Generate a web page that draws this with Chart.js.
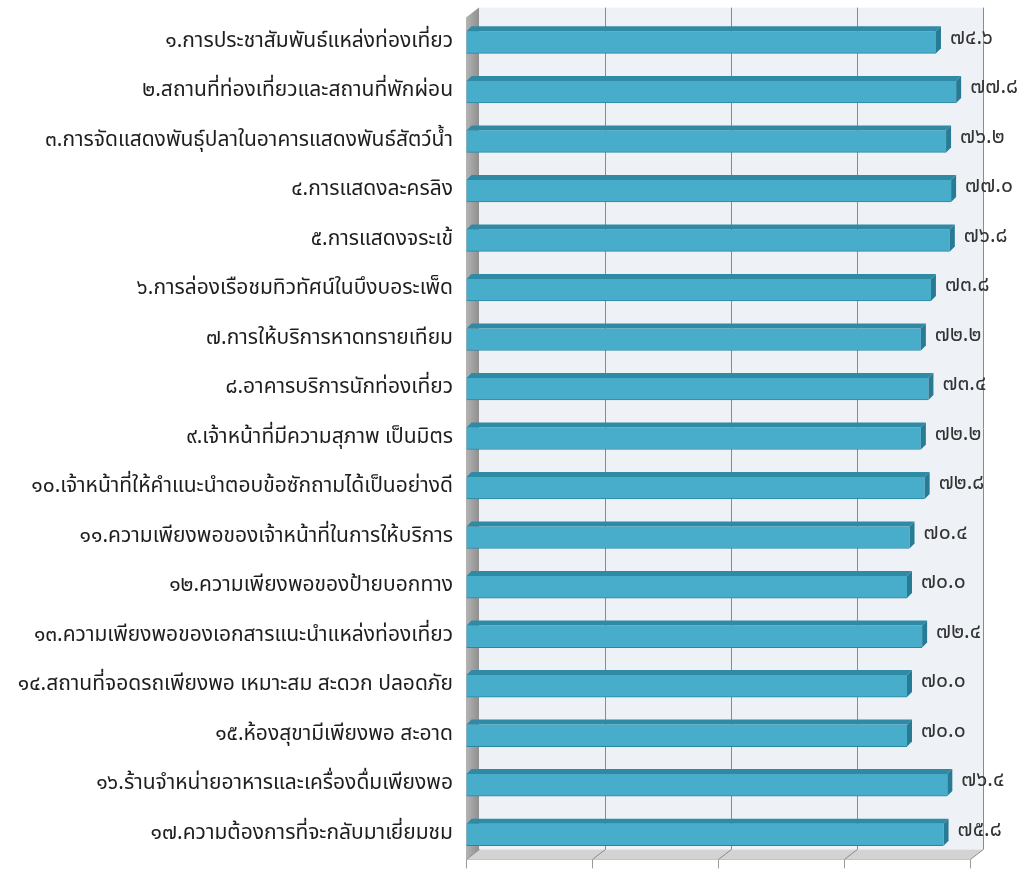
<!DOCTYPE html>
<html lang="th">
<head>
<meta charset="utf-8">
<title>ผลการประเมินความพึงพอใจ</title>
<script src="https://cdn.jsdelivr.net/npm/chart.js@4.4.1/dist/chart.umd.min.js"></script>
<style>
  html, body { margin: 0; padding: 0; background: #ffffff; }
  #wrap { width: 1029px; height: 877px; position: relative; }
</style>
</head>
<body>
<div id="wrap"><canvas id="chart"></canvas></div>
<script>
// รายการหัวข้อประเมิน
const categories = [
  "๑.การประชาสัมพันธ์แหล่งท่องเที่ยว",
  "๒.สถานที่ท่องเที่ยวและสถานที่พักผ่อน",
  "๓.การจัดแสดงพันธุ์ปลาในอาคารแสดงพันธ์สัตว์น้ำ",
  "๔.การแสดงละครลิง",
  "๕.การแสดงจระเข้",
  "๖.การล่องเรือชมทิวทัศน์ในบึงบอระเพ็ด",
  "๗.การให้บริการหาดทรายเทียม",
  "๘.อาคารบริการนักท่องเที่ยว",
  "๙.เจ้าหน้าที่มีความสุภาพ เป็นมิตร",
  "๑๐.เจ้าหน้าที่ให้คำแนะนำตอบข้อซักถามได้เป็นอย่างดี",
  "๑๑.ความเพียงพอของเจ้าหน้าที่ในการให้บริการ",
  "๑๒.ความเพียงพอของป้ายบอกทาง",
  "๑๓.ความเพียงพอของเอกสารแนะนำแหล่งท่องเที่ยว",
  "๑๔.สถานที่จอดรถเพียงพอ เหมาะสม สะดวก ปลอดภัย",
  "๑๕.ห้องสุขามีเพียงพอ สะอาด",
  "๑๖.ร้านจำหน่ายอาหารและเครื่องดื่มเพียงพอ",
  "๑๗.ความต้องการที่จะกลับมาเยี่ยมชม"
];

// ค่าร้อยละของแต่ละหัวข้อ
const values = [74.6, 77.8, 76.2, 77.0, 76.8, 73.8, 72.2, 73.4, 72.2, 72.8, 70.4, 70.0, 72.4, 70.0, 70.0, 76.4, 75.8];

// แกนค่า (ไม่แสดงตัวเลข)
const axisMin = 0;
const axisMax = 80;
const axisStep = 20;

const thaiDigits = ["๐", "๑", "๒", "๓", "๔", "๕", "๖", "๗", "๘", "๙"];
function toThai(n) {
  return n.toFixed(1).replace(/\d/g, (d) => thaiDigits[d]);
}

const FONT = "'Noto Sans Thai', 'Noto Sans', 'DejaVu Sans', sans-serif";

// วาดกล่อง 3 มิติ: ผนังหลัง ผนังซ้าย พื้น และเส้นกริด
const boxPlugin = {
  id: "box3d",
  beforeDatasetsDraw(chart) {
    const { ctx, chartArea: a, scales } = chart;
    const dx = 13, dy = -10;
    ctx.save();

    // ผนังหลัง
    ctx.fillStyle = "#eef2f7";
    ctx.fillRect(a.left + dx, a.top + dy, a.right - a.left, a.bottom - a.top);

    // พื้น
    ctx.fillStyle = "#d3d3d3";
    ctx.beginPath();
    ctx.moveTo(a.left, a.bottom);
    ctx.lineTo(a.left + dx, a.bottom + dy);
    ctx.lineTo(a.right + dx, a.bottom + dy);
    ctx.lineTo(a.right, a.bottom);
    ctx.closePath();
    ctx.fill();

    // ผนังซ้าย
    const g = ctx.createLinearGradient(a.left, 0, a.left + dx, 0);
    g.addColorStop(0, "#b4b4b4");
    g.addColorStop(1, "#8f8f8f");
    ctx.fillStyle = g;
    ctx.beginPath();
    ctx.moveTo(a.left, a.top);
    ctx.lineTo(a.left + dx, a.top + dy);
    ctx.lineTo(a.left + dx, a.bottom + dy);
    ctx.lineTo(a.left, a.bottom);
    ctx.closePath();
    ctx.fill();

    // เส้นกริดบนผนังหลังและพื้น
    ctx.strokeStyle = "#8a8a8a";
    ctx.lineWidth = 1;
    scales.x.ticks.forEach((t, i) => {
      const x = Math.round(scales.x.getPixelForTick(i)) + 0.5;
      ctx.beginPath();
      if (i > 0) {
        ctx.moveTo(x + dx, a.top + dy);
        ctx.lineTo(x + dx, a.bottom + dy);
      }
      ctx.moveTo(x, a.bottom);
      ctx.lineTo(x + dx, a.bottom + dy);
      ctx.stroke();
    });
    ctx.restore();
  },
  afterDatasetsDraw(chart) {
    const { ctx } = chart;
    const d = 5;
    const meta = chart.getDatasetMeta(0);
    ctx.save();
    meta.data.forEach((bar, i) => {
      const top = bar.y - bar.height / 2;
      const bottom = bar.y + bar.height / 2;
      // ด้านบนของแท่ง
      ctx.fillStyle = "#2f8aa6";
      ctx.beginPath();
      ctx.moveTo(bar.base, top);
      ctx.lineTo(bar.base + d, top - d);
      ctx.lineTo(bar.x + d, top - d);
      ctx.lineTo(bar.x, top);
      ctx.closePath();
      ctx.fill();
      // ปลายแท่ง
      ctx.fillStyle = "#287b95";
      ctx.beginPath();
      ctx.moveTo(bar.x, top);
      ctx.lineTo(bar.x + d, top - d);
      ctx.lineTo(bar.x + d, bottom - d);
      ctx.lineTo(bar.x, bottom);
      ctx.closePath();
      ctx.fill();
      // ป้ายค่าเป็นเลขไทย
      ctx.fillStyle = "#333333";
      ctx.font = "21px " + FONT;
      ctx.textAlign = "left";
      ctx.textBaseline = "middle";
      ctx.fillText(toThai(values[i]), bar.x + 14, bar.y - 3);
    });
    ctx.restore();
  }
};

new Chart(document.getElementById("chart"), {
  type: "bar",
  data: {
    labels: categories,
    datasets: [
      {
        data: values,
        backgroundColor: "#48adca",
        borderColor: "#2c86a2",
        borderWidth: { top: 0, left: 0, right: 0, bottom: 1 },
        borderSkipped: false,
        barThickness: 22
      }
    ]
  },
  options: {
    indexAxis: "y",
    responsive: true,
    maintainAspectRatio: false,
    animation: false,
    layout: { padding: { top: 15, right: 59, bottom: 0, left: 0 } },
    plugins: {
      legend: { display: false },
      tooltip: { enabled: false }
    },
    scales: {
      x: {
        min: axisMin,
        max: axisMax,
        ticks: { stepSize: axisStep, display: false },
        grid: { drawOnChartArea: false, drawTicks: true, tickLength: 9, color: "#9a9a9a" },
        border: { display: true, color: "#b5b5b5" },
        afterFit(scale) { scale.height = 9; }
      },
      y: {
        grid: { display: false },
        border: { display: false },
        ticks: {
          color: "#1e1e1e",
          padding: 5,
          font: { family: FONT, size: 21 }
        },
        afterFit(scale) { scale.width = 466; }
      }
    }
  },
  plugins: [boxPlugin]
});
</script>
</body>
</html>
